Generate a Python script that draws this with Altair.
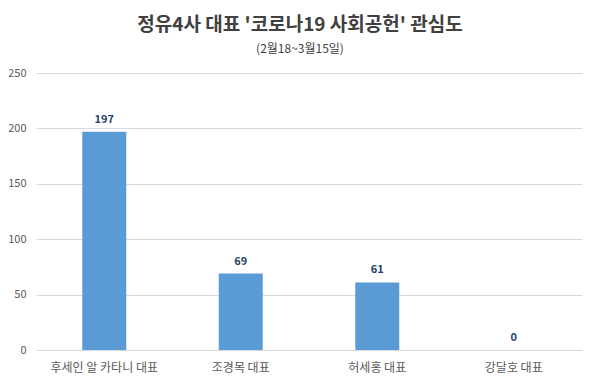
import altair as alt
import pandas as pd

categories = ["후세인 알 카타니 대표", "조경목 대표", "허세홍 대표", "강달호 대표"]
values = [197, 69, 61, 0]
y_ticks = [0, 50, 100, 150, 200, 250]

df = pd.DataFrame({"name": categories, "value": values})
FONT = "Noto Sans CJK KR"

base = alt.Chart(df).encode(
    x=alt.X("name:N", sort=categories, title=None,
            scale=alt.Scale(paddingInner=0, paddingOuter=0),
            axis=alt.Axis(labelAngle=0, domain=False, ticks=False, labelPadding=12,
                          labelFontSize=12, labelColor="#595959", labelFont=FONT)),
    y=alt.Y("value:Q", title=None,
            scale=alt.Scale(domain=[0, 250]),
            axis=alt.Axis(values=y_ticks, domain=False, ticks=False, labelPadding=10,
                          labelFontSize=11, labelColor="#595959", labelFont=FONT,
                          gridColor="#d9d9d9", gridWidth=1)),
)

bars = base.mark_bar(color="#5B9BD5", size=44)
labels = base.mark_text(dy=-12, fontSize=11, fontWeight="bold", color="#1F3F66", font=FONT).encode(
    text="value:Q")

chart = (bars + labels).properties(
    width=546, height=277,
    autosize=alt.AutoSizeParams(type="none"),
    padding={"left": 28, "top": 65, "right": 10, "bottom": 30},
    title=alt.TitleParams(
        text="정유4사 대표 '코로나19 사회공헌' 관심도",
        subtitle="(2월18~3월15일)",
        fontSize=19, fontWeight="bold", color="#404040", font=FONT,
        subtitleFontSize=12, subtitleColor="#404040", subtitleFont=FONT,
        subtitlePadding=9, offset=12, anchor="middle", dx=-9,
    ),
).configure_view(stroke=None).configure_axis(gridColor="#d9d9d9")

chart.save("out.html", embed_options={"renderer": "svg", "actions": False})
